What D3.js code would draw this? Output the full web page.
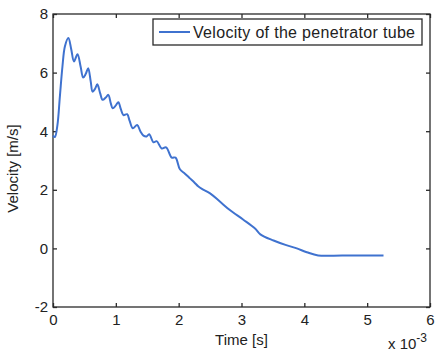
<!DOCTYPE html>
<html>
<head>
<meta charset="utf-8">
<script src="https://cdn.jsdelivr.net/npm/d3@7"></script>
<style>
  body { margin: 0; background: #fff; }
  svg { display: block; font-family: Arial, "Liberation Sans", sans-serif; }
</style>
</head>
<body>
<div id="chart-container"></div>
<script>
// time in units of 1e-3 s, velocity in m/s
const timeValues = [0, 0.03, 0.07, 0.11, 0.15, 0.19, 0.245, 0.29, 0.334, 0.39, 0.44, 0.48, 0.52, 0.56, 0.6, 0.63,
    0.67, 0.705, 0.75, 0.79, 0.84, 0.88, 0.92, 0.95, 1.0, 1.04, 1.08, 1.12, 1.18, 1.22, 1.27, 1.34, 1.39, 1.44,
    1.49, 1.53, 1.6, 1.65, 1.73, 1.8, 1.89, 1.95, 2.02, 2.1, 2.18, 2.25, 2.31, 2.37, 2.5, 2.66, 2.82, 3.03,
    3.22, 3.3, 3.51, 3.7, 3.88, 4.04, 4.22, 4.6, 5.0, 5.26];
const velocityValues = [3.85, 3.8, 4.2, 5.2, 6.2, 6.9, 7.18, 6.8, 6.38, 6.63, 6.2, 5.83, 5.95, 6.15, 5.7, 5.35,
    5.45, 5.6, 5.3, 5.07, 5.15, 5.24, 4.95, 4.78, 4.88, 4.99, 4.75, 4.55, 4.58, 4.35, 4.1, 4.21, 4.0, 3.85,
    3.82, 3.9, 3.62, 3.66, 3.41, 3.45, 3.1, 3.1, 2.7, 2.55, 2.39, 2.25, 2.12, 2.03, 1.88, 1.59, 1.3, 0.98,
    0.67, 0.48, 0.27, 0.12, 0.0, -0.13, -0.24, -0.24, -0.24, -0.24];
const xTicks = [0, 1, 2, 3, 4, 5, 6];
const yTicks = [-2, 0, 2, 4, 6, 8];
const seriesName = "Velocity of the penetrator tube";

const svgWidth = 436;
const svgHeight = 351;
const margin = { top: 14, right: 6, bottom: 44, left: 53 };
const width = svgWidth - margin.left - margin.right;
const height = svgHeight - margin.top - margin.bottom;

const data = timeValues.map((t, i) => ({ t: t, v: velocityValues[i] }));

const svg = d3.select("#chart-container")
    .append("svg")
    .attr("width", svgWidth)
    .attr("height", svgHeight);

const chart = svg.append("g")
    .attr("transform", `translate(${margin.left},${margin.top})`);

const scaleX = d3.scaleLinear().domain([0, 6]).range([0, width]);
const scaleY = d3.scaleLinear().domain([-2, 8]).range([height, 0]);

const axisColor = "#2a2a2a";
const tickFont = "15px";

// box
chart.append("rect")
    .attr("width", width)
    .attr("height", height)
    .attr("fill", "none")
    .attr("stroke", axisColor)
    .attr("stroke-width", 1.3);

function styleAxis(g, showLabels) {
    g.select(".domain").remove();
    g.selectAll("line").attr("stroke", axisColor).attr("stroke-width", 1.3);
    g.selectAll("text")
        .attr("fill", "#222")
        .style("font-size", tickFont)
        .style("font-family", "Arial, 'Liberation Sans', sans-serif");
    if (!showLabels) g.selectAll("text").remove();
}

chart.append("g")
    .attr("transform", `translate(0,${height})`)
    .call(d3.axisBottom(scaleX).tickValues(xTicks).tickSizeInner(-4).tickPadding(7).tickFormat(d => String(d)))
    .call(g => styleAxis(g, true));

chart.append("g")
    .call(d3.axisTop(scaleX).tickValues(xTicks).tickSizeInner(-4))
    .call(g => styleAxis(g, false));

chart.append("g")
    .call(d3.axisLeft(scaleY).tickValues(yTicks).tickSizeInner(-4).tickPadding(5).tickFormat(d => String(d)))
    .call(g => styleAxis(g, true));

chart.append("g")
    .attr("transform", `translate(${width},0)`)
    .call(d3.axisRight(scaleY).tickValues(yTicks).tickSizeInner(-4))
    .call(g => styleAxis(g, false));

// axis titles
chart.append("text")
    .attr("x", scaleX(3))
    .attr("y", height + 38)
    .attr("text-anchor", "middle")
    .attr("font-size", "15px")
    .attr("fill", "#222")
    .text("Time [s]");

const expo = chart.append("text")
    .attr("x", width - 42)
    .attr("y", height + 42)
    .attr("font-size", "15px")
    .attr("fill", "#222");
expo.append("tspan").text("x 10");
expo.append("tspan").attr("dy", -7).attr("font-size", "12px").text("-3");

chart.append("text")
    .attr("transform", "rotate(-90)")
    .attr("x", -(scaleY(3) + 8))
    .attr("y", -35)
    .attr("text-anchor", "middle")
    .attr("font-size", "15px")
    .attr("fill", "#222")
    .text("Velocity [m/s]");

// line
const lineColor = "#3f72cf";
const lineGen = d3.line()
    .x(d => scaleX(d.t))
    .y(d => scaleY(d.v))
    .curve(d3.curveCatmullRom.alpha(0.5));

chart.append("path")
    .datum(data)
    .attr("fill", "none")
    .attr("stroke", lineColor)
    .attr("stroke-width", 2)
    .attr("stroke-linejoin", "round")
    .attr("d", lineGen);

// legend
const legend = svg.append("g").attr("transform", "translate(153,19)");
legend.append("rect")
    .attr("width", 269)
    .attr("height", 26)
    .attr("fill", "#fff")
    .attr("stroke", axisColor)
    .attr("stroke-width", 1.3);
legend.append("line")
    .attr("x1", 6).attr("x2", 37)
    .attr("y1", 13).attr("y2", 13)
    .attr("stroke", lineColor)
    .attr("stroke-width", 2);
legend.append("text")
    .attr("x", 40)
    .attr("y", 18.5)
    .attr("font-size", "16px")
    .attr("textLength", 222)
    .attr("fill", "#222")
    .text(seriesName);
</script>
</body>
</html>
